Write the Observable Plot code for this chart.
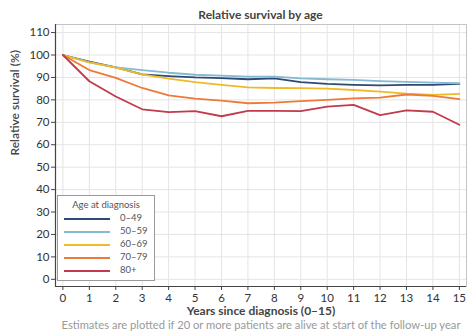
<!DOCTYPE html>
<html><head><meta charset="utf-8">
<script src="https://cdn.jsdelivr.net/npm/d3@7"></script>
<script src="https://cdn.jsdelivr.net/npm/@observablehq/plot@0.6"></script>
<style>
body{margin:0;background:#fff;font-family:Lato,"Open Sans",sans-serif;}
#wrap{position:relative;width:469px;height:334px;overflow:hidden;}
#title{position:absolute;top:7px;left:55px;width:411px;text-align:center;font-size:12px;font-weight:700;color:#444;}
#caption{position:absolute;top:318px;left:0;width:522px;text-align:center;font-size:11.2px;color:#999;white-space:nowrap;}
#legend{position:absolute;left:57px;top:195px;width:98px;height:86px;border:1px solid #9a9a9a;background:#fff;box-sizing:border-box;font-size:9.5px;color:#555;}
#legend .lt{text-align:center;margin-top:3px;height:13px;}
#legend .it{position:relative;height:13px;}
#legend .it span.l{position:absolute;left:6px;top:6px;width:46px;height:2px;}
#legend .it span.t{position:absolute;left:62px;top:0px;}
</style></head>
<body><div id="wrap"><div id="title">Relative survival by age</div><div id="chart"></div><div id="legend"></div><div id="caption">Estimates are plotted if 20 or more patients are alive at start of the follow-up year</div></div>
<script>
const years = [0,1,2,3,4,5,6,7,8,9,10,11,12,13,14,15];
const groups = ["0–49","50–59","60–69","70–79","80+"];
const colors = ["#2d4a74","#84b9d2","#efb92a","#ef7a37","#c23a4b"];
const s0_49  = [100,97,94.5,91.4,90.6,90,89.7,89.2,89.6,87.9,87.1,86.7,86.5,86.7,86.7,87.1];
const s50_59 = [100,96.7,94.5,93.3,92.1,91.2,90.8,90.4,90.4,89.6,89.2,88.9,88.4,88,87.7,87.4];
const s60_69 = [100,96.7,94.4,91.4,89.5,87.9,86.7,85.6,85.3,85.2,85,84.4,83.7,82.8,82.2,82.7];
const s70_79 = [100,93.3,89.8,85.3,82,80.6,79.7,78.5,78.8,79.4,80,80.7,81,82.4,81.8,80.3];
const s80    = [100,88.3,81.5,75.8,74.5,75,72.7,75.1,75.1,75,77,77.8,73.2,75.3,74.7,68.9];
const series = [s0_49,s50_59,s60_69,s70_79,s80];
const yTicks = [0,10,20,30,40,50,60,70,80,90,100,110];
const xDomain = [-0.28,15.27];
const yDomain = [-3.2,113.6];

const data = [];
series.forEach((vals,i)=>vals.forEach((v,j)=>data.push({year:years[j],value:v,group:groups[i]})));

const chart = Plot.plot({
  width:469, height:318,
  marginLeft:55, marginRight:3, marginTop:24, marginBottom:32,
  style:{fontFamily:"Lato, 'Open Sans', sans-serif", fontSize:"11.5px", color:"#333", background:"#fff"},
  x:{domain:xDomain},
  y:{domain:yDomain},
  color:{domain:groups, range:colors},
  marks:[
    Plot.gridX(years,{stroke:"#e4e4e4",strokeOpacity:1}),
    Plot.gridY(yTicks,{stroke:"#e4e4e4",strokeOpacity:1}),
    Plot.frame({stroke:"#c4c4c4"}),
    Plot.ruleX([xDomain[0]],{stroke:"#444",strokeWidth:1.2}),
    Plot.ruleY([yDomain[0]],{stroke:"#444",strokeWidth:1.2}),
    Plot.axisY({ticks:yTicks,tickSize:4,tickPadding:2,stroke:"#444",label:null,fontSize:11.5}),
    Plot.axisX({ticks:years,tickSize:4,tickPadding:3,stroke:"#444",label:null,fontSize:11.5}),
    Plot.line(data,{x:"year",y:"value",z:"group",stroke:"group",strokeWidth:1.8}),
    Plot.text(["Years since diagnosis (0–15)"],{frameAnchor:"bottom",lineAnchor:"middle",dy:25,fontSize:12,fontWeight:700,fill:"#444"}),
    Plot.text(["Relative survival (%)"],{frameAnchor:"left",dx:-40,rotate:-90,fontSize:12,fontWeight:600,fill:"#444"})
  ]
});
document.getElementById("chart").appendChild(chart);

const lg = document.getElementById("legend");
let html = '<div class="lt">Age at diagnosis</div>';
groups.forEach((g,i)=>{html += `<div class="it"><span class="l" style="background:${colors[i]}"></span><span class="t">${g}</span></div>`;});
lg.innerHTML = html;
</script></body></html>
